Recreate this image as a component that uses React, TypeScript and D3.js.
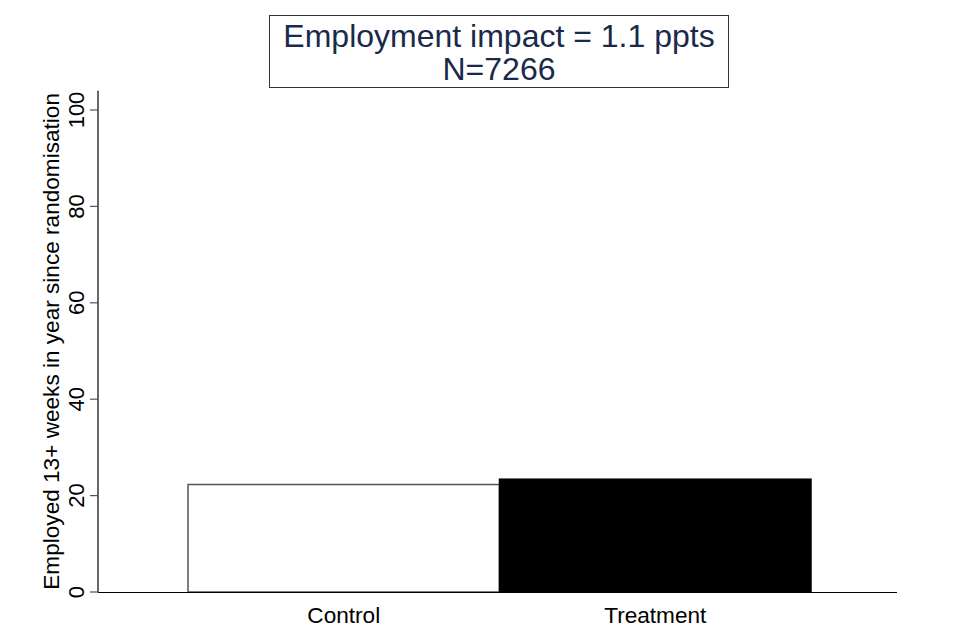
import React from "react";
import * as d3 from "d3";

const categories = ["Control", "Treatment"];
const values = [22.3, 23.4];
const yTicks = [0, 20, 40, 60, 80, 100];
const fills = ["#ffffff", "#000000"];
const titleLines = ["Employment impact = 1.1 ppts", "N=7266"];
const yTitle = "Employed 13+ weeks in year since randomisation";

export default function App() {
  const W = 960, H = 640;
  const y = d3.scaleLinear().domain([0, 100]).range([592, 110]);
  const x = d3.scaleBand<string>().domain(categories).range([188, 811]).padding(0);
  const font = "Arial, 'Liberation Sans', sans-serif";
  return (
    <svg width={W} height={H} style={{ position: "absolute", left: 0, top: 0, background: "#fff" }} fontFamily={font}>
      <rect x={0} y={0} width={W} height={H} fill="#fff" />
      {/* title box */}
      <rect x={269.5} y={15.5} width={459} height={72} fill="#fff" stroke="#333" strokeWidth={1} />
      <text x={499} y={47} textAnchor="middle" fontSize={32} fill="#1a2a4a">{titleLines[0]}</text>
      <text x={499} y={80} textAnchor="middle" fontSize={32} fill="#1a2a4a">{titleLines[1]}</text>
      {/* bars */}
      {categories.map((c, i) => (
        <rect key={c} x={x(c)!} y={y(values[i])} width={x.bandwidth()} height={y(0) - y(values[i])}
          fill={fills[i]} stroke={i === 0 ? "#555" : "#000"} strokeWidth={1.5} />
      ))}
      {/* y axis */}
      <line x1={98} x2={98} y1={y(104)} y2={y(0)} stroke="#000" strokeWidth={1.2} />
      {yTicks.map(t => (
        <g key={t}>
          <line x1={90} x2={98} y1={y(t)} y2={y(t)} stroke="#555" strokeWidth={1.2} />
          <text transform={`translate(84,${y(t)}) rotate(-90)`} textAnchor="middle" fontSize={22} fill="#000">{t}</text>
        </g>
      ))}
      <text transform={`translate(59,${(y(0) + y(104)) / 2}) rotate(-90)`} textAnchor="middle" fontSize={22.6} fill="#000">{yTitle}</text>
      {/* x axis */}
      <line x1={98} x2={897} y1={y(0) + 0.5} y2={y(0) + 0.5} stroke="#000" strokeWidth={1.2} />
      {categories.map(c => (
        <text key={c} x={x(c)! + x.bandwidth() / 2} y={623} textAnchor="middle" fontSize={22.6} fill="#000">{c}</text>
      ))}
    </svg>
  );
}
